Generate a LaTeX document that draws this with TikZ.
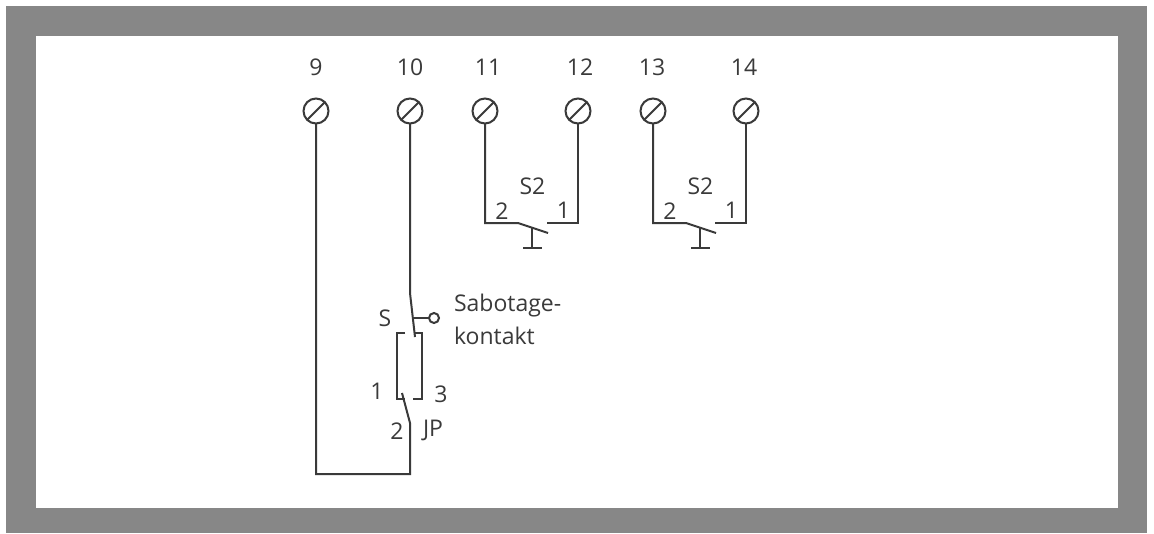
\documentclass[tikz,border=0pt]{standalone}
\usepackage{fontspec}
\setmainfont{Open Sans}
\definecolor{ink}{HTML}{3A3A3A}
\definecolor{frame}{HTML}{878787}
\tikzset{
  wire/.style={draw=ink,line width=2pt,line cap=butt,line join=miter},
  term/.style={circle,draw=ink,line width=2pt,minimum size=25pt,inner sep=0pt,outer sep=0pt},
  opnd/.style={circle,draw=ink,line width=2pt,minimum size=10pt,inner sep=0pt,outer sep=0pt},
  lbl/.style={text=ink,font=\fontsize{23}{28}\selectfont,inner sep=0pt,outer sep=0pt}
}
\begin{document}
\begin{tikzpicture}[x=1pt,y=-1pt]
\useasboundingbox (0,0) rectangle (1154,533);
\fill[frame] (6,6) rectangle (1147,533);
\fill[white] (36,36) rectangle (1118,508);
% terminals
\foreach \n/\x/\tx in {9/316/316,10/410/410,11/485/488,12/578/580,13/653/652,14/746/744}{
  \node[term] (t\n) at (\x,111) {};
  \draw[wire] (t\n.45) -- (t\n.225);
  \node[lbl] (n\n) at (\tx,67.5) {\n};
}
% lower left loop
\coordinate (a) at (316,474);
\coordinate (b) at (410,474);
\coordinate (c) at (410,423);
\coordinate (jpTip) at (402,393);
\draw[wire] (t9) ++(0,12.5) -- (a) -- (b) -- (c) -- (jpTip);
\coordinate (s1) at (410,293);
\coordinate (sTip) at (415,337);
\draw[wire] (t10) ++(0,12.5) -- (s1) -- (sTip);
\node[opnd] (so) at (434,318) {};
\coordinate (sj) at (412.7,318);
\draw[wire] (sj) -- (so.west);
\coordinate (r1) at (405,333);
\coordinate (r2) at (397,333);
\coordinate (r3) at (397,399);
\coordinate (r4) at (405,399);
\draw[wire] (r1) -- (r2) -- (r3) -- (r4);
\coordinate (q1) at (414,333);
\coordinate (q2) at (422,333);
\coordinate (q3) at (422,399);
\coordinate (q4) at (413,399);
\draw[wire] (q1) -- (q2) -- (q3) -- (q4);
% S2 contacts
\foreach \l/\r/\lx/\rx in {11/12/485/578,13/14/653/746}{
  \coordinate (L\l) at (\lx,223);
  \coordinate (M\l) at (\lx+33,223);
  \coordinate (B\l) at (\lx+63,233);
  \coordinate (N\l) at (\rx-31,223);
  \coordinate (R\l) at (\rx,223);
  \coordinate (A\l) at (\lx+47,228);
  \coordinate (F\l) at (\lx+47,248);
  \coordinate (G\l) at (\lx+38,248);
  \coordinate (H\l) at (\lx+57,248);
  \draw[wire] (t\l) ++(0,12.5) -- (L\l) -- (M\l) -- (B\l);
  \draw[wire] (t\r) ++(0,12.5) -- (R\l) -- (N\l);
  \draw[wire,line width=1.5pt] (A\l) -- (F\l);
  \draw[wire] (G\l) -- (H\l);
  \node[lbl] (two\l) at (\lx+17,211) {2};
  \node[lbl] (one\l) at (\rx-14.5,210) {1};
  \node[lbl] (sw\l) at (\lx+47.5,186) {S2};
}
\node[lbl] (S) at (385,318) {S};
\node[lbl] (one) at (377,391) {1};
\node[lbl] (three) at (441,394) {3};
\node[lbl] (two) at (397,431) {2};
\node[lbl] (JP) at (433,430) {JP};
\node[lbl,anchor=base west] (sab) at (454,311) {Sabotage-};
\node[lbl,anchor=base west] (kon) at (454,344) {kontakt};
\end{tikzpicture}
\end{document}
